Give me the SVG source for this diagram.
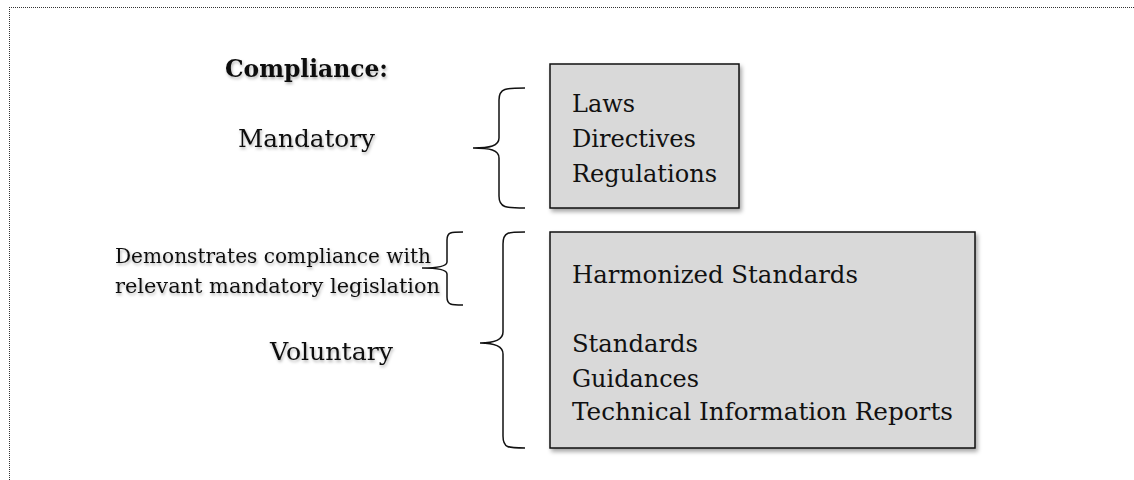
<svg xmlns="http://www.w3.org/2000/svg" width="1134" height="480" viewBox="0 0 1134 480">
<defs>
<filter id="sh" x="-10%" y="-10%" width="130%" height="140%">
<feDropShadow dx="2" dy="3" stdDeviation="2" flood-color="#000" flood-opacity="0.35"/>
</filter>
<filter id="tsh" x="-5%" y="-20%" width="115%" height="160%">
<feDropShadow dx="1" dy="2" stdDeviation="1.5" flood-color="#000" flood-opacity="0.3"/>
</filter>
</defs>
<style>
text{font-family:"DejaVu Serif","Liberation Serif",serif;fill:#111;}
.t{font-size:24px;}
.s{font-size:19.5px;}
.b{font-size:24px;font-weight:bold;}
.box{fill:#d9d9d9;stroke:#111;stroke-width:1.5;}
.brace{fill:none;stroke:#111;stroke-width:1.5;}
</style>
<rect width="1134" height="480" fill="#fff"/>
<path d="M9,7.5 H1134 M9.5,7 V480" stroke="#333" stroke-width="1" stroke-dasharray="1,1" fill="none"/>
<g id="title" filter="url(#tsh)"><text class="b" x="225" y="77" textLength="163" lengthAdjust="spacingAndGlyphs">Compliance:</text></g>
<g id="mandatory" filter="url(#tsh)"><text class="t" x="238" y="147" textLength="137" lengthAdjust="spacingAndGlyphs">Mandatory</text></g>
<g id="voluntary" filter="url(#tsh)"><text class="t" x="270" y="360" textLength="123" lengthAdjust="spacingAndGlyphs">Voluntary</text></g>
<g id="demonstrates" filter="url(#tsh)">
<text class="s" x="115" y="263" textLength="316" lengthAdjust="spacingAndGlyphs">Demonstrates compliance with</text>
<text class="s" x="115" y="293" textLength="325" lengthAdjust="spacingAndGlyphs">relevant mandatory legislation</text>
</g>
<g id="box-mandatory">
<rect class="box" x="550" y="64" width="189" height="144" filter="url(#sh)"/>
<text class="t" x="572" y="112" textLength="63" lengthAdjust="spacingAndGlyphs">Laws</text>
<text class="t" x="572" y="147" textLength="124" lengthAdjust="spacingAndGlyphs">Directives</text>
<text class="t" x="572" y="182" textLength="145" lengthAdjust="spacingAndGlyphs">Regulations</text>
</g>
<g id="box-voluntary">
<rect class="box" x="550" y="232" width="425" height="216" filter="url(#sh)"/>
<text class="t" x="572" y="283" textLength="286" lengthAdjust="spacingAndGlyphs">Harmonized Standards</text>
<text class="t" x="572" y="352" textLength="126" lengthAdjust="spacingAndGlyphs">Standards</text>
<text class="t" x="572" y="387" textLength="127" lengthAdjust="spacingAndGlyphs">Guidances</text>
<text class="t" x="572" y="420" textLength="381" lengthAdjust="spacingAndGlyphs">Technical Information Reports</text>
</g>
<g id="connectors">
<path class="brace" d="M525,88 C506,88 499,88 499,100 V138 C499,146 490,148 473,148 C490,148 499,150 499,158 V196 C499,208 506,208 525,208"/>
<path class="brace" d="M525,232 C508,232 503,232 503,244 V332 C503,340 495,343 480,343 C495,343 503,346 503,354 V436 C503,448 508,448 525,448"/>
<path class="brace" d="M463,232 C451,232 447,232 447,240 V262 C447,266 440,268 422,268 C440,268 447,270 447,274 V297 C447,305 451,305 463,305"/>
</g>
</svg>
